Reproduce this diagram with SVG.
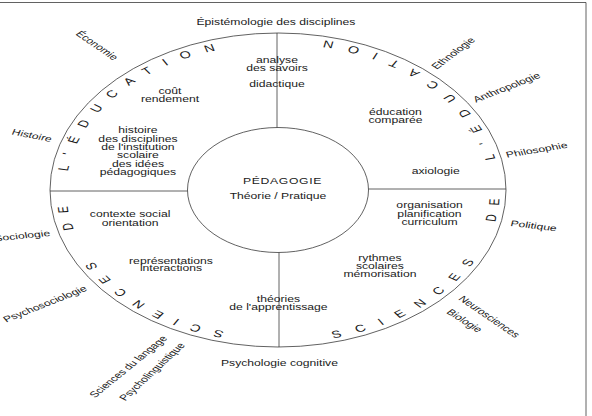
<svg xmlns="http://www.w3.org/2000/svg" width="592" height="416" viewBox="0 0 592 416">
<style>
.ln{fill:none;stroke:#3a3a3a;stroke-width:0.8}
.t{font-family:"Liberation Sans",Arial,sans-serif;font-size:8.4px;fill:#1a1a1a;text-anchor:middle}
.o{dominant-baseline:central}
.ring{font-family:"Liberation Sans",Arial,sans-serif;font-size:10px;fill:#1a1a1a}
</style>
<defs>
<path id="pl" d="M0,336 A146,146 0 0 1 0,44"/>
<path id="pr" d="M0,343 A153,153 0 0 0 0,37"/>
</defs>
<rect width="592" height="416" fill="#fff"/>
<g id="frame" class="ln">
<line x1="0" y1="2.5" x2="586" y2="2.5"/>
<line x1="586" y1="2.5" x2="586" y2="416"/>
</g>
<g id="connectors" class="ln">
<ellipse cx="278" cy="190" rx="228" ry="157"/>
<line x1="277" y1="33" x2="277" y2="127.5"/>
<line x1="279" y1="252.5" x2="279" y2="347"/>
<line x1="50" y1="191" x2="187.5" y2="191"/>
<line x1="368.5" y1="189" x2="506" y2="189"/>
</g>
<g id="pedagogie-node">
<ellipse class="ln" cx="278" cy="190" rx="90.5" ry="62.5"/>
</g>
<g transform="translate(278,0) scale(1.45,1)">
<g id="pedagogie">
<text class="t" x="3.1" y="184" letter-spacing="0.45">PÉDAGOGIE</text>
<text class="t" x="0" y="199">Théorie / Pratique</text>
</g>
<g id="savoirs">
<text class="t" x="-0.7" y="63">analyse</text>
<text class="t" x="-0.7" y="71">des savoirs</text>
<text class="t" x="-0.7" y="87.5">didactique</text>
</g>
<g id="cout">
<text class="t" x="-74.5" y="94.5">coût</text>
<text class="t" x="-74.5" y="102.5">rendement</text>
</g>
<g id="histoire">
<text class="t" x="-96.6" y="133.5">histoire</text>
<text class="t" x="-96.6" y="141.8">des disciplines</text>
<text class="t" x="-96.6" y="150.1">de l'institution</text>
<text class="t" x="-96.6" y="158.4">scolaire</text>
<text class="t" x="-96.6" y="166.7">des idées</text>
<text class="t" x="-96.6" y="175">pédagogiques</text>
</g>
<g id="comparee">
<text class="t" x="81" y="115">éducation</text>
<text class="t" x="81" y="123.5">comparée</text>
</g>
<g id="axiologie">
<text class="t" x="108.8" y="174">axiologie</text>
</g>
<g id="curriculum">
<text class="t" x="104.5" y="208.5">organisation</text>
<text class="t" x="104.5" y="217">planification</text>
<text class="t" x="104.5" y="225.5">curriculum</text>
</g>
<g id="contexte">
<text class="t" x="-102" y="217.5">contexte social</text>
<text class="t" x="-102" y="225.8">orientation</text>
</g>
<g id="representations">
<text class="t" x="-73.8" y="264.5">représentations</text>
<text class="t" x="-73.8" y="271.5">interactions</text>
</g>
<g id="rythmes">
<text class="t" x="70.3" y="261.5">rythmes</text>
<text class="t" x="70.3" y="269.5">scolaires</text>
<text class="t" x="70.3" y="277.5">mémorisation</text>
</g>
<g id="apprentissage">
<text class="t" x="0.3" y="302">théories</text>
<text class="t" x="0.3" y="310.5">de l'apprentissage</text>
</g>
<g id="ring-left" class="ring">
<text letter-spacing="9.45"><textPath href="#pl" startOffset="37.2">SCIENCES</textPath></text>
<text letter-spacing="9.86"><textPath href="#pl" startOffset="189.3">DE</textPath></text>
<text letter-spacing="10.15"><textPath href="#pl" startOffset="247.9">L'ÉDUCATION</textPath></text>
</g>
<g id="ring-right" class="ring">
<text letter-spacing="10.96"><textPath href="#pr" startOffset="38.4">SCIENCES</textPath></text>
<text letter-spacing="9.66"><textPath href="#pr" startOffset="207.9">DE</textPath></text>
<text letter-spacing="11.12"><textPath href="#pr" startOffset="271.5">L'ÉDUCATION</textPath></text>
</g>
<g id="outer-labels">
<text class="t o" x="-1.4" y="22">Épistémologie des disciplines</text>
<text class="t o" x="1" y="363">Psychologie cognitive</text>
<text class="t o" transform="translate(-124.8,45.5) rotate(45)">Économie</text>
<text class="t o" transform="translate(-169.7,135.5) rotate(16.2)">Histoire</text>
<text class="t o" transform="translate(120.9,53.3) rotate(-47.4)">Ethnologie</text>
<text class="t o" transform="translate(157.7,87.5) rotate(-29.7)">Anthropologie</text>
<text class="t o" transform="translate(178.4,150) rotate(-13.6)">Philosophie</text>
<text class="t o" transform="translate(176.3,225.8) rotate(9.4)">Politique</text>
<text class="t o" transform="translate(145.7,316.7) rotate(44.8)">Neurosciences</text>
<text class="t o" transform="translate(128.6,320.8) rotate(42.3)">Biologie</text>
<text class="t o" transform="translate(-176.4,235.8) rotate(-8.3)">Sociologie</text>
<text class="t o" transform="translate(-160.7,304) rotate(-29.9)">Psychosociologie</text>
<text class="t o" transform="translate(-103.2,366.7) rotate(-49.8)">Sciences du langage</text>
<text class="t o" transform="translate(-86.8,371.7) rotate(-53.4)">Psycholinguistique</text>
</g>
</g>
</svg>
